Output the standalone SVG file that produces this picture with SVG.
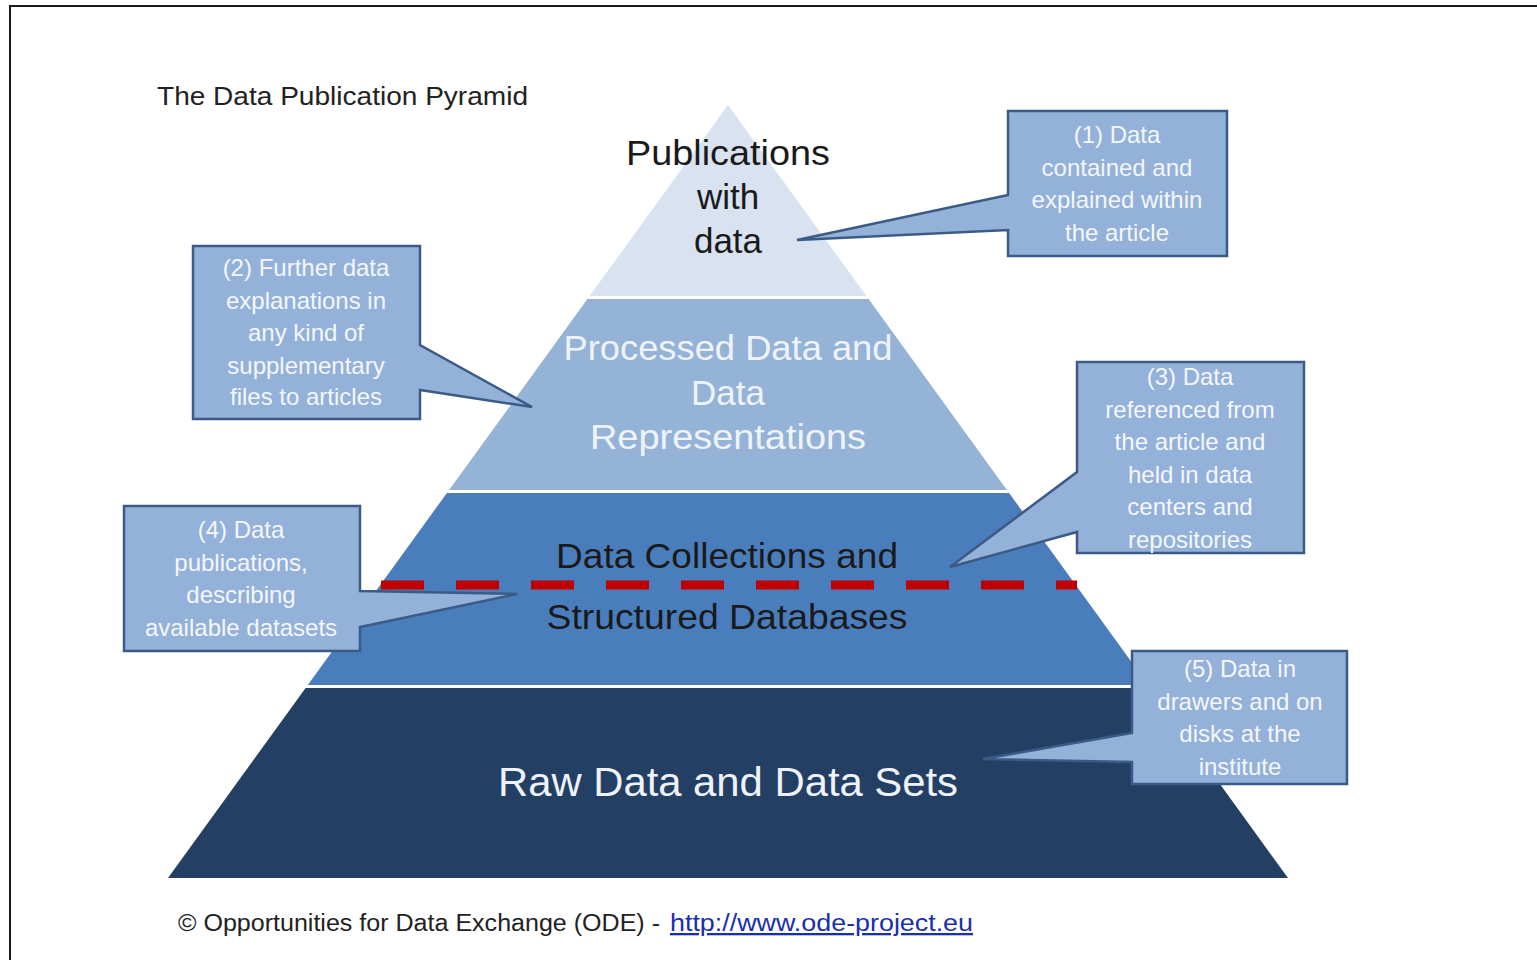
<svg xmlns="http://www.w3.org/2000/svg" width="1537" height="960" viewBox="0 0 1537 960">
<style>
.frame{stroke:#1a1a1a;stroke-width:2;fill:none}
.call{fill:#93b1d9;stroke:#3b5b86;stroke-width:2.5;stroke-linejoin:miter}
.ct{font-family:"Liberation Sans",Arial,sans-serif;font-size:24px;fill:#f4f7fb;text-anchor:middle}
.pt{font-family:"Liberation Sans",Arial,sans-serif;font-size:35px;text-anchor:middle}
.dark{fill:#1a1a1a}
.light{fill:#eef3fa}
.title{font-family:"Liberation Sans",Arial,sans-serif;font-size:25px;fill:#222}
.foot{font-family:"Liberation Sans",Arial,sans-serif;font-size:23px;fill:#222}
.link{font-family:"Liberation Sans",Arial,sans-serif;font-size:23px;fill:#1a2fb0;text-decoration:underline}
</style>
<rect x="0" y="0" width="1537" height="960" fill="#ffffff"/>
<path class="frame" d="M10,960 V6 H1537"/>
<text class="title" x="157" y="105" textLength="371" lengthAdjust="spacingAndGlyphs">The Data Publication Pyramid</text>

<g id="layer-publications">
<polygon points="728,105 866.4,296 589.6,296" fill="#d8e2f1"/>
<text class="pt dark" x="728" y="165" textLength="204" lengthAdjust="spacingAndGlyphs">Publications</text>
<text class="pt dark" x="728" y="209">with</text>
<text class="pt dark" x="728" y="253">data</text>
</g>
<g id="layer-processed">
<polygon points="587.4,299 868.6,299 1006.9,490 449.1,490" fill="#95b3d7"/>
<text class="pt light" x="728" y="360" textLength="329" lengthAdjust="spacingAndGlyphs">Processed Data and</text>
<text class="pt light" x="728" y="405">Data</text>
<text class="pt light" x="728" y="449" textLength="276" lengthAdjust="spacingAndGlyphs">Representations</text>
</g>
<g id="layer-collections">
<polygon points="446.9,493 1009.1,493 1148.2,685 307.8,685" fill="#4a7dbb"/>
<text class="pt dark" x="727" y="568" textLength="342" lengthAdjust="spacingAndGlyphs">Data Collections and</text>
<text class="pt dark" x="727" y="629" textLength="361" lengthAdjust="spacingAndGlyphs">Structured Databases</text>
</g>
<g id="layer-raw">
<polygon points="305.6,688 1150.4,688 1288,878 168,878" fill="#243f64"/>
<text class="pt light" x="728" y="796" style="font-size:41px" textLength="460" lengthAdjust="spacingAndGlyphs">Raw Data and Data Sets</text>
</g>

<g id="connectors">
<line x1="381" y1="585" x2="1077" y2="585" stroke="#c00000" stroke-width="9" stroke-dasharray="43 32"/>
</g>

<g id="callout-1">
<path class="call" d="M1008,111 H1227 V256 H1008 V230 L797,240 L1008,195 Z"/>
<text class="ct" x="1117" y="143">(1) Data</text>
<text class="ct" x="1117" y="176">contained and</text>
<text class="ct" x="1117" y="208">explained within</text>
<text class="ct" x="1117" y="241">the article</text>
</g>
<g id="callout-2">
<path class="call" d="M193,246 H420 V345 L532,407 L420,390 V419 H193 Z"/>
<text class="ct" x="306" y="276">(2) Further data</text>
<text class="ct" x="306" y="309">explanations in</text>
<text class="ct" x="306" y="341">any kind of</text>
<text class="ct" x="306" y="374">supplementary</text>
<text class="ct" x="306" y="405">files to articles</text>
</g>
<g id="callout-3">
<path class="call" d="M1077,362 H1304 V553 H1077 V532 L950,567 L1077,472 Z"/>
<text class="ct" x="1190" y="385">(3) Data</text>
<text class="ct" x="1190" y="418">referenced  from</text>
<text class="ct" x="1190" y="450">the article and</text>
<text class="ct" x="1190" y="483">held in data</text>
<text class="ct" x="1190" y="515">centers and</text>
<text class="ct" x="1190" y="548">repositories</text>
</g>
<g id="callout-4">
<path class="call" d="M124,506 H360 V591 L517,594 L360,627 V651 H124 Z"/>
<text class="ct" x="241" y="538">(4) Data</text>
<text class="ct" x="241" y="571">publications,</text>
<text class="ct" x="241" y="603">describing</text>
<text class="ct" x="241" y="636">available datasets</text>
</g>
<g id="callout-5">
<path class="call" d="M1132,651 H1347 V784 H1132 V762 L983,759 L1132,733 Z"/>
<text class="ct" x="1240" y="677">(5) Data in</text>
<text class="ct" x="1240" y="710">drawers and on</text>
<text class="ct" x="1240" y="742">disks at the</text>
<text class="ct" x="1240" y="775">institute</text>
</g>

<text class="foot" x="178" y="931" textLength="482" lengthAdjust="spacingAndGlyphs">© Opportunities for Data Exchange (ODE) -</text>
<text class="link" x="670" y="931" textLength="303" lengthAdjust="spacingAndGlyphs">http://www.ode-project.eu</text>
</svg>
